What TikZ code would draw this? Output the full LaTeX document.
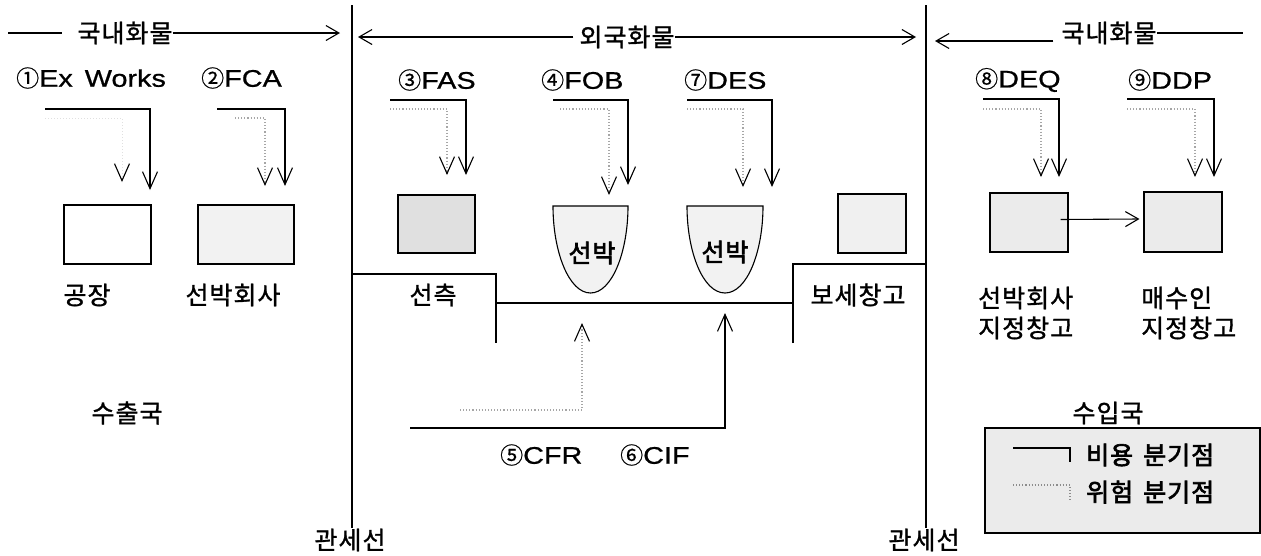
\documentclass[tikz,border=0pt]{standalone}
\usepackage{fontspec}
\setmainfont{Liberation Sans}[FakeStretch=1.2,FakeBold=0.8]
\newfontfamily\kr{Noto Sans CJK KR}[FakeBold=1.2,LetterSpace=4]
\newfontfamily\krb{Noto Sans CJK KR}[FakeBold=2.6,LetterSpace=4]
\newfontfamily\krn{Noto Sans CJK KR}[FakeBold=0.6]
\usetikzlibrary{arrows.meta}
\newcommand{\cnum}[1]{{\krn\fontsize{23}{24}\selectfont #1}}
\newcommand{\elb}[6]{\coordinate (#1s) at (#3,#4); \coordinate (#1t) at (#5,#6); \draw[#2] (#1s) -| (#1t);}
\tikzset{
  ln/.style={line width=1.1pt},
  sol/.style={ln, -{Straight Barb[length=17pt,width=15pt,line width=1.1pt]}},
  dts/.style={dotted, line width=1.1pt, black!35, -{Straight Barb[length=17pt,width=15pt,line width=1.1pt,color=black]}},
  dtf/.style={dotted, line width=1pt, black!12, -{Straight Barb[length=17pt,width=15pt,line width=1.1pt,color=black]}},
  top/.style={ln, -{Straight Barb[length=13pt,width=15pt,line width=1.1pt]}},
  kt/.style={font=\kr\fontsize{25}{30}\selectfont, inner sep=0pt},
  ktb/.style={font=\krb\fontsize{25}{30}\selectfont, inner sep=0pt},
  lt/.style={font=\fontsize{24}{28}\selectfont, inner sep=0pt, anchor=west},
  bx/.style={draw, line width=1.1pt, inner sep=0pt},
}
\begin{document}
\begin{tikzpicture}[x=1pt,y=-1pt]
\useasboundingbox (0,0) rectangle (1261,555);
% customs lines
\coordinate (v1a) at (352,5); \coordinate (v1b) at (352,528);
\coordinate (v2a) at (926,5); \coordinate (v2b) at (926,528);
\draw[ln] (v1a) -- (v1b);
\draw[ln] (v2a) -- (v2b);
\node[kt] (cl1) at (350,540) {관세선};
\node[kt] (cl2) at (924,540) {관세선};
% top cargo arrows
\node[kt] (t1) at (125,33) {국내화물};
\coordinate (t1a) at (8,33); \coordinate (t1b) at (340,33);
\draw[ln] (t1a) -- ([xshift=-15pt]t1.west);
\draw[top] (t1.east) -- (t1b);
\node[kt] (t2) at (627,37) {외국화물};
\coordinate (t2a) at (358,37); \coordinate (t2b) at (916,37);
\draw[top] ([xshift=-6pt]t2.west) -- (t2a);
\draw[top] (t2.east) -- (t2b);
\node[kt] (t3) at (1109,33) {국내화물};
\coordinate (t3a) at (935,41); \coordinate (t3b) at (1243,33);
\draw[top] ([xshift=-8pt,yshift=-8pt]t3.west) -- (t3a);
\draw[ln] (t3.east) -- (t3b);
% term labels
\node[lt] (l1) at (16,78) {\cnum{①}Ex\hspace{12pt}Works};
\node[lt] (l2) at (201,78) {\cnum{②}FCA};
\node[lt] (l3) at (398,80) {\cnum{③}FAS};
\node[lt] (l4) at (541,80) {\cnum{④}FOB};
\node[lt] (l7) at (684,80) {\cnum{⑦}DES};
\node[lt] (l8) at (975,80) {\cnum{⑧}DEQ};
\node[lt] (l9) at (1128,80) {\cnum{⑨}DDP};
\node[lt] (l5) at (500,455) {\cnum{⑤}CFR};
\node[lt] (l6) at (620,455) {\cnum{⑥}CIF};
% elbow arrows: solid = cost, dotted = risk
\elb{ews}{sol}{45}{109}{150}{190}
\elb{ewd}{dtf}{45}{118}{122}{182}
\elb{fcs}{sol}{217}{109}{285}{186}
\elb{fcd}{dts}{235}{118}{265}{186}
\elb{fas}{sol}{390}{100}{466}{175}
\elb{fad}{dts}{390}{109}{447}{175}
\elb{fos}{sol}{553}{100}{628}{185}
\elb{fod}{dts}{560}{109}{609}{195}
\elb{des}{sol}{687}{100}{772}{187}
\elb{ded}{dts}{687}{109}{743}{187}
\elb{dqs}{sol}{983}{99}{1059}{177}
\elb{dqd}{dts}{983}{109}{1041}{177}
\elb{dps}{sol}{1127}{99}{1214}{177}
\elb{dpd}{dts}{1127}{109}{1195}{177}
% boxes
\node[bx, fill=white, minimum width=87pt, minimum height=59pt] (b1) at (107.5,234.5) {};
\node[bx, fill=black!5, minimum width=96pt, minimum height=59pt] (b2) at (246,234.5) {};
\node[bx, fill=black!12, minimum width=77pt, minimum height=58pt] (b3) at (436.5,224) {};
\node[bx, fill=black!6, minimum width=68pt, minimum height=59pt] (b4) at (872,223.5) {};
\node[bx, fill=black!8, minimum width=78pt, minimum height=59pt] (b5) at (1029,222.5) {};
\node[bx, fill=black!8, minimum width=78pt, minimum height=60pt] (b6) at (1183,222) {};
\draw[top] ([xshift=-8pt,yshift=3pt]b5.east) -- ([xshift=-4pt,yshift=3pt]b6.west);
% ships
\draw[ln, fill=black!5] (553,206) -- (628,206) .. controls (628,252) and (612,293) .. (590.5,293) .. controls (569,293) and (553,252) .. (553,206) -- cycle;
\draw[ln, fill=black!5] (687,206) -- (763,206) .. controls (763,252) and (747,293) .. (725,293) .. controls (703,293) and (687,252) .. (687,206) -- cycle;
\node[ktb] (s1) at (592,253) {선박};
\node[ktb] (s2) at (725,252) {선박};
% quay / platforms
\coordinate (p1) at (352,274); \coordinate (p2) at (496,274); \coordinate (p3) at (496,343);
\coordinate (p4) at (496,303); \coordinate (p5) at (793,303);
\coordinate (p6) at (793,343); \coordinate (p7) at (793,264); \coordinate (p8) at (926,264);
\draw[ln] (p1) -- (p2) -- (p3);
\draw[ln] (p4) -- (p5);
\draw[ln] (p6) -- (p7) -- (p8);
% CFR / CIF arrows from below
\elb{cis}{sol}{410}{428}{725}{313}
\elb{crd}{dts}{460}{410}{582}{323}
% place texts
\node[kt] (n1) at (87,295) {공장};
\node[kt] (n2) at (233,295) {선박회사};
\node[kt] (n3) at (433,295) {선측};
\node[kt] (n4) at (858,295) {보세창고};
\node[kt, align=left, anchor=west] (n5) at (978,313) {선박회사\\지정창고};
\node[kt, align=left, anchor=west] (n6) at (1141,313) {매수인\\지정창고};
\node[kt] (ex) at (127,413) {수출국};
\node[kt] (im) at (1108,413) {수입국};
% legend
\node[bx, fill=black!8, minimum width=275pt, minimum height=105pt] (lg) at (1122.5,480.5) {};
\coordinate (lg1) at (1013,448); \coordinate (lg2) at (1070,462);
\coordinate (lg3) at (1013,485); \coordinate (lg4) at (1070,500);
\draw[ln] (lg1) -| (lg2);
\draw[dotted, line width=1.1pt, black!45] (lg3) -| (lg4);
\node[ktb, anchor=west] (lgt1) at (1086,455) {비용\hspace{10pt}분기점};
\node[ktb, anchor=west] (lgt2) at (1086,492) {위험\hspace{10pt}분기점};
\end{tikzpicture}
\end{document}
